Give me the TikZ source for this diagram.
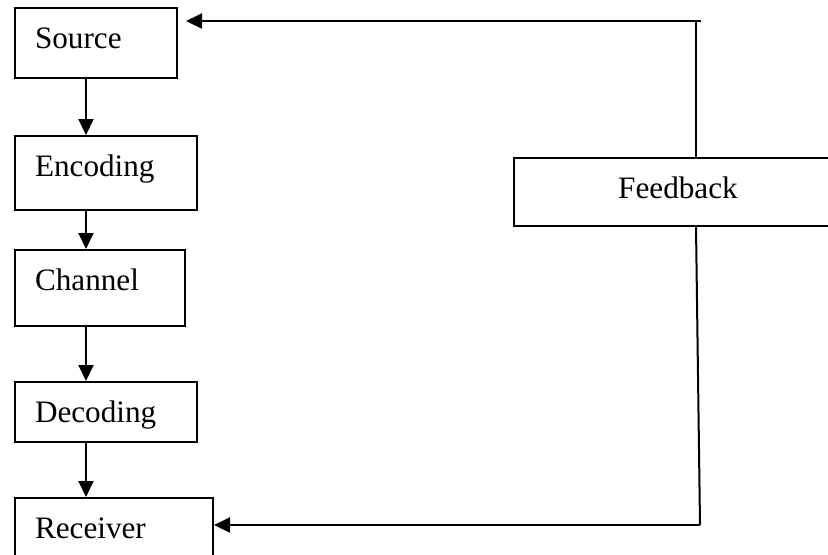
\documentclass[tikz,border=0pt]{standalone}
\usepackage{fontspec}
\setmainfont{Liberation Serif}
\usetikzlibrary{arrows.meta}
\tikzset{
  blockbox/.style={draw, line width=1pt, anchor=north west, inner xsep=10pt, inner ysep=0pt,
    text height=20pt, align=left, font=\fontsize{15.6}{18}\selectfont},
  link/.style={line width=1pt},
  flow/.style={line width=1pt, -{Triangle[length=8pt,width=7.5pt]}}
}
\begin{document}
\begin{tikzpicture}[x=0.5pt,y=-0.5pt]
\useasboundingbox (0,0) rectangle (828,554);
\node[blockbox, text width=61pt, text depth=15pt] (src) at (14,7) {Source};
\node[blockbox, text width=71pt, text depth=17pt] (enc) at (14,135) {Encoding};
\node[blockbox, text width=65pt, text depth=18pt] (chn) at (14,249) {Channel};
\node[blockbox, text width=71pt, text depth=10pt] (dec) at (14,381) {Decoding};
\node[blockbox, text width=79pt, text depth=10pt] (rcv) at (14,497) {Receiver};
\node[blockbox, text width=144pt, text depth=14pt, align=center] (fb) at (513,157) {Feedback};
% forward chain
\coordinate (spine) at (86,0);
\draw[flow] (src.south -| spine) -- (enc.north -| spine);
\draw[flow] (enc.south -| spine) -- (chn.north -| spine);
\draw[flow] (chn.south -| spine) -- (dec.north -| spine);
\draw[flow] (dec.south -| spine) -- (rcv.north -| spine);
% feedback loop
\coordinate (upx) at (696,0);
\coordinate (tr) at (701,21);
\coordinate (br) at (700,525);
\draw[link] (fb.north -| upx) -- (upx |- tr);
\draw[flow, shorten >=4pt] (tr) -- (tr -| src.east);
\draw[link] (fb.south -| upx) -- (br);
\draw[flow] (br) -- (br -| rcv.east);
\end{tikzpicture}
\end{document}
